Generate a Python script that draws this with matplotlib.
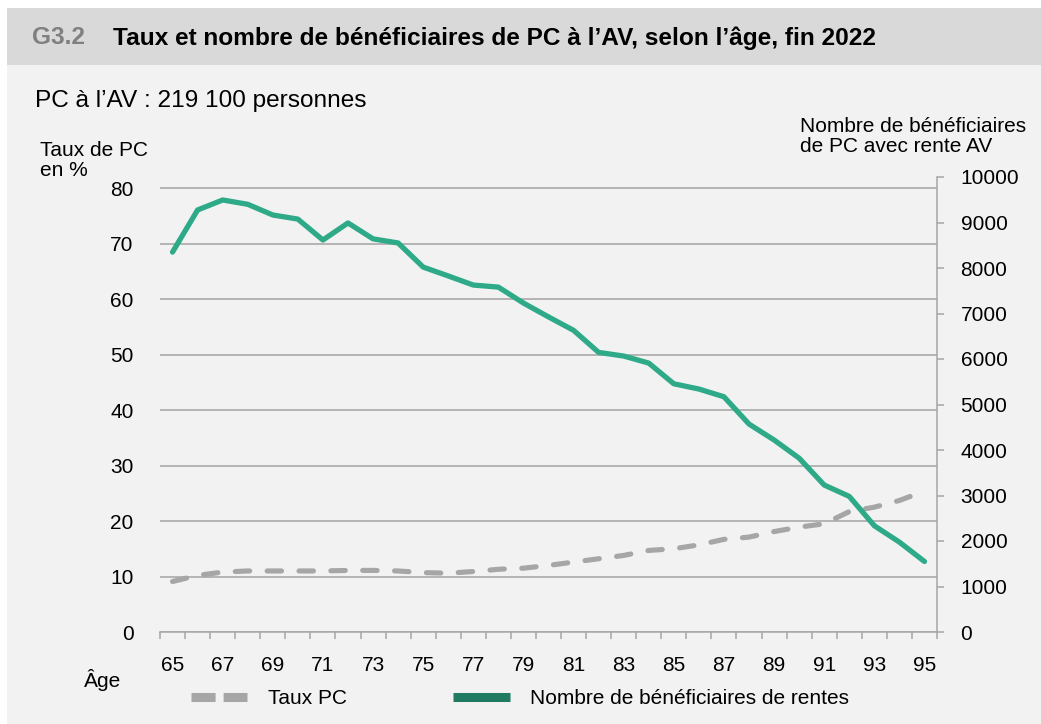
import matplotlib
matplotlib.use("Agg")
import matplotlib.pyplot as plt
from matplotlib.lines import Line2D
from matplotlib.patches import Rectangle
import numpy as np

plt.rcParams['font.family'] = ['Liberation Sans', 'DejaVu Sans']

ages = list(range(65, 96))
taux_pc = [9.1, 10.2, 10.8, 11.0, 11.0, 11.0, 11.0, 11.1, 11.1, 11.0, 10.7, 10.6, 10.9, 11.3, 11.5,
           12.0, 12.6, 13.2, 13.8, 14.7, 15.0, 15.7, 16.7, 17.1, 18.1, 18.9, 19.5, 21.7, 22.5, 23.7, 25.4]
nombre = [8350, 9275, 9495, 9400, 9165, 9075, 8615, 8990, 8640, 8550, 8020, 7825, 7625, 7580, 7230,
          6925, 6630, 6145, 6065, 5910, 5455, 5340, 5170, 4570, 4220, 3820, 3230, 2980, 2335, 1975, 1550]
left_ticks = [0, 10, 20, 30, 40, 50, 60, 70, 80]
right_ticks = [0, 1000, 2000, 3000, 4000, 5000, 6000, 7000, 8000, 9000, 10000]

title_num = "G3.2"
title = "Taux et nombre de bénéficiaires de PC à l’AV, selon l’âge, fin 2022"
subtitle = "PC à l’AV : 219 100 personnes"
left_label = "Taux de PC\nen %"
right_label = "Nombre de bénéficiaires\nde PC avec rente AV"
x_label = "Âge"
leg_labels = ["Taux PC", "Nombre de bénéficiaires de rentes"]

W, H = 1041, 724
FS = 15
fig = plt.figure(figsize=(W / 100, H / 100), dpi=100)
fig.patch.set_facecolor('white')

# backgrounds
fig.add_artist(Rectangle((7 / W, 0), 1 - 7 / W, 1 - 8 / H, transform=fig.transFigure,
                         facecolor='#f2f2f2', edgecolor='none', zorder=-10))
fig.add_artist(Rectangle((7 / W, 1 - 65 / H), 1 - 7 / W, 57 / H, transform=fig.transFigure,
                         facecolor='#d9d9d9', edgecolor='none', zorder=-9))

ax = fig.add_axes([160 / W, 1 - 632 / H, (937 - 160) / W, (632 - 177) / H])
ax.set_facecolor('none')
ax2 = ax.twinx()

x = np.arange(len(ages))
gray = '#a6a6a6'
green = '#2eaa88'

ax.plot(x, taux_pc, color=gray, lw=3.7, ls=(0, (2.8, 3.4)), dash_capstyle='round',
        solid_capstyle='round', zorder=3)
ax2.plot(x, nombre, color=green, lw=3.8, solid_capstyle='round', solid_joinstyle='round', zorder=4)

ax.set_xlim(-0.5, len(ages) - 0.5)
ax.set_ylim(0, 82)
ax2.set_ylim(0, 10000)

ax.set_yticks(left_ticks)
ax.set_yticklabels([str(v) for v in left_ticks], fontsize=FS)
ax.grid(axis='y', color='#a3a3a3', lw=1.1)
ax.set_axisbelow(True)
ax.tick_params(axis='y', length=0, pad=19)

ax2.set_yticks(right_ticks)
ax2.set_yticklabels([str(v) for v in right_ticks], fontsize=FS)
ax2.tick_params(axis='y', direction='out', length=5, color='#a6a6a6', width=1.1, pad=12)

# x ticks: boundaries as tick marks, labels at every other category
ax.set_xticks(np.arange(-0.5, len(ages), 1.0))
ax.set_xticklabels([])
ax.tick_params(axis='x', which='major', direction='out', length=5, color='#a6a6a6', width=1.1)
ax.set_xticks(x[::2], minor=True)
ax.set_xticklabels([str(a) for a in ages[::2]], minor=True, fontsize=FS)
ax.tick_params(axis='x', which='minor', length=0, pad=17)

for a_ in (ax, ax2):
    for s in ('top', 'left'):
        a_.spines[s].set_visible(False)
ax2.spines['bottom'].set_visible(False)
ax.spines['right'].set_visible(False)
ax.spines['bottom'].set_color('#a6a6a6')
ax.spines['bottom'].set_linewidth(1.1)
ax2.spines['right'].set_color('#a6a6a6')
ax2.spines['right'].set_linewidth(1.1)

# texts
fig.text(32 / W, 1 - 38 / H, title_num, fontsize=17.6, fontweight='bold', color='#808080', va='center')
fig.text(113 / W, 1 - 38 / H, title, fontsize=17.6, fontweight='bold', color='black', va='center')
fig.text(35 / W, 1 - 101 / H, subtitle, fontsize=17.6, color='black', va='center')
fig.text(40 / W, 1 - 141 / H, left_label, fontsize=FS, color='black', va='top', linespacing=1.1)
fig.text(800 / W, 1 - 117 / H, right_label, fontsize=FS, color='black', va='top', linespacing=1.1)
fig.text(84 / W, 1 - 680 / H, x_label, fontsize=FS, color='black', va='center')

handles = [Line2D([0], [0], color=gray, lw=6.5, ls=(0, (2.67, 0.89)), dash_capstyle='butt'),
           Line2D([0], [0], color='#217a62', lw=6.5, solid_capstyle='butt')]
fig.legend(handles, leg_labels, loc='center left', bbox_to_anchor=(191 / W, 1 - 699 / H),
           ncol=2, frameon=False, fontsize=FS, handlelength=2.7, handletextpad=1.0,
           columnspacing=5.1, borderaxespad=0, borderpad=0)

fig.savefig('out.png', dpi=100, facecolor=fig.get_facecolor())
